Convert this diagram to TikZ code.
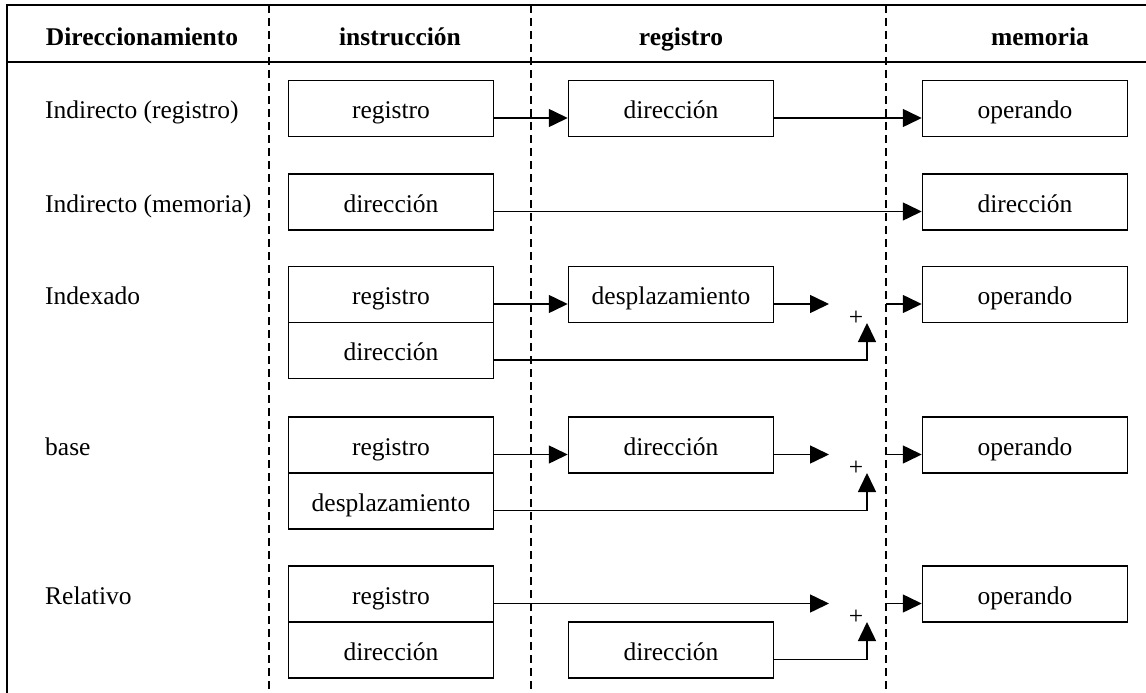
\documentclass[tikz,border=0pt]{standalone}
\usepackage{fontspec}
\setmainfont{Liberation Serif}
\usepackage{tikz}
\usetikzlibrary{arrows.meta, positioning, calc}
\newcommand{\bodysize}{\fontsize{25.5}{30}\selectfont}
\tikzset{
    cell/.style={rectangle, draw=black, line width=1.5pt, minimum width=205pt, minimum height=56pt, inner sep=0pt, text height=20pt, text depth=0pt, align=center},
    label/.style={anchor=west, inner sep=0pt, text height=20pt, text depth=0pt},
    head/.style={inner sep=0pt, text height=17pt, text depth=0pt, font=\bodysize\bfseries},
    arrow/.style={line width=1.5pt, -{Triangle[length=19pt, width=18pt]}},
    sep/.style={line width=1.4pt, dash pattern=on 8pt off 5pt},
    frame/.style={line width=1.8pt}
}

\begin{document}
\begin{tikzpicture}[x=1pt, y=-1pt, font=\bodysize]
        \useasboundingbox (0,0) rectangle (1146,693);
        % Frame and column separators
        \draw[frame] (7,693) -- (7,5) -- (1146,5);
        \draw[frame] (7,62) -- (1146,62);
        \foreach \x in {269, 531, 886}
            \draw[sep] (\x,5) -- (\x,693);

        % Headings
        \node[head] (h0) at (142,37) {Direccionamiento};
        \node[head] (h1) at (400,37) {instrucción};
        \node[head] (h2) at (681,37) {registro};
        \node[head] (h3) at (1040,37) {memoria};

        % Row labels
        \node[label] (l1) at (45,108.5) {Indirecto (registro)};
        \node[label] (l2) at (45,202) {Indirecto (memoria)};
        \node[label] (l3) at (45,294.5) {Indexado};
        \node[label] (l4) at (45,445) {base};
        \node[label] (l5) at (45,594) {Relativo};

        % Indirecto (registro)
        \node[cell] (r1ins) at (391,108.5) {registro};
        \node[cell] (r1reg) at (671,108.5) {dirección};
        \node[cell] (r1mem) at (1025,108.5) {operando};
        \draw[arrow] ([yshift=-9.5pt]r1ins.east) -- ([yshift=-9.5pt]r1reg.west);
        \draw[arrow] ([yshift=-9.5pt]r1reg.east) -- ([yshift=-9.5pt]r1mem.west);

        % Indirecto (memoria)
        \node[cell] (r2ins) at (391,202) {dirección};
        \node[cell] (r2mem) at (1025,202) {dirección};
        \draw[arrow] ([yshift=-9.5pt]r2ins.east) -- ([yshift=-9.5pt]r2mem.west);

        % Indexado
        \node[cell] (r3ins) at (391,294.5) {registro};
        \node[cell] (r3dir) at (391,350.5) {dirección};
        \node[cell] (r3reg) at (671,294.5) {desplazamiento};
        \node[cell] (r3mem) at (1025,294.5) {operando};
        \node (r3sum) at (856,318) {+};
        \coordinate (r3in) at (829,304);
        \coordinate (r3up) at (867,323);
        \coordinate (r3out) at (886,304);
        \draw[arrow] ([yshift=-9.5pt]r3ins.east) -- ([yshift=-9.5pt]r3reg.west);
        \draw[arrow] ([yshift=-9.5pt]r3reg.east) -- (r3in);
        \draw[arrow] ([yshift=-9.5pt]r3dir.east) -| (r3up);
        \draw[arrow] (r3out) -- ([yshift=-9.5pt]r3mem.west);

        % base
        \node[cell] (r4ins) at (391,445) {registro};
        \node[cell] (r4des) at (391,501) {desplazamiento};
        \node[cell] (r4reg) at (671,445) {dirección};
        \node[cell] (r4mem) at (1025,445) {operando};
        \node (r4sum) at (856,468) {+};
        \coordinate (r4in) at (829,454.5);
        \coordinate (r4up) at (867,473);
        \coordinate (r4out) at (886,454.5);
        \draw[arrow] ([yshift=-9.5pt]r4ins.east) -- ([yshift=-9.5pt]r4reg.west);
        \draw[arrow] ([yshift=-9.5pt]r4reg.east) -- (r4in);
        \draw[arrow] ([yshift=-9.5pt]r4des.east) -| (r4up);
        \draw[arrow] (r4out) -- ([yshift=-9.5pt]r4mem.west);

        % Relativo
        \node[cell] (r5ins) at (391,594) {registro};
        \node[cell] (r5dir) at (391,650) {dirección};
        \node[cell] (r5reg) at (671,650) {dirección};
        \node[cell] (r5mem) at (1025,594) {operando};
        \node (r5sum) at (856,617) {+};
        \coordinate (r5in) at (829,603.5);
        \coordinate (r5up) at (867,622);
        \coordinate (r5out) at (886,603.5);
        \draw[arrow] ([yshift=-9.5pt]r5ins.east) -- (r5in);
        \draw[arrow] ([yshift=-9.5pt]r5reg.east) -| (r5up);
        \draw[arrow] (r5out) -- ([yshift=-9.5pt]r5mem.west);
    \end{tikzpicture}
\end{document}
